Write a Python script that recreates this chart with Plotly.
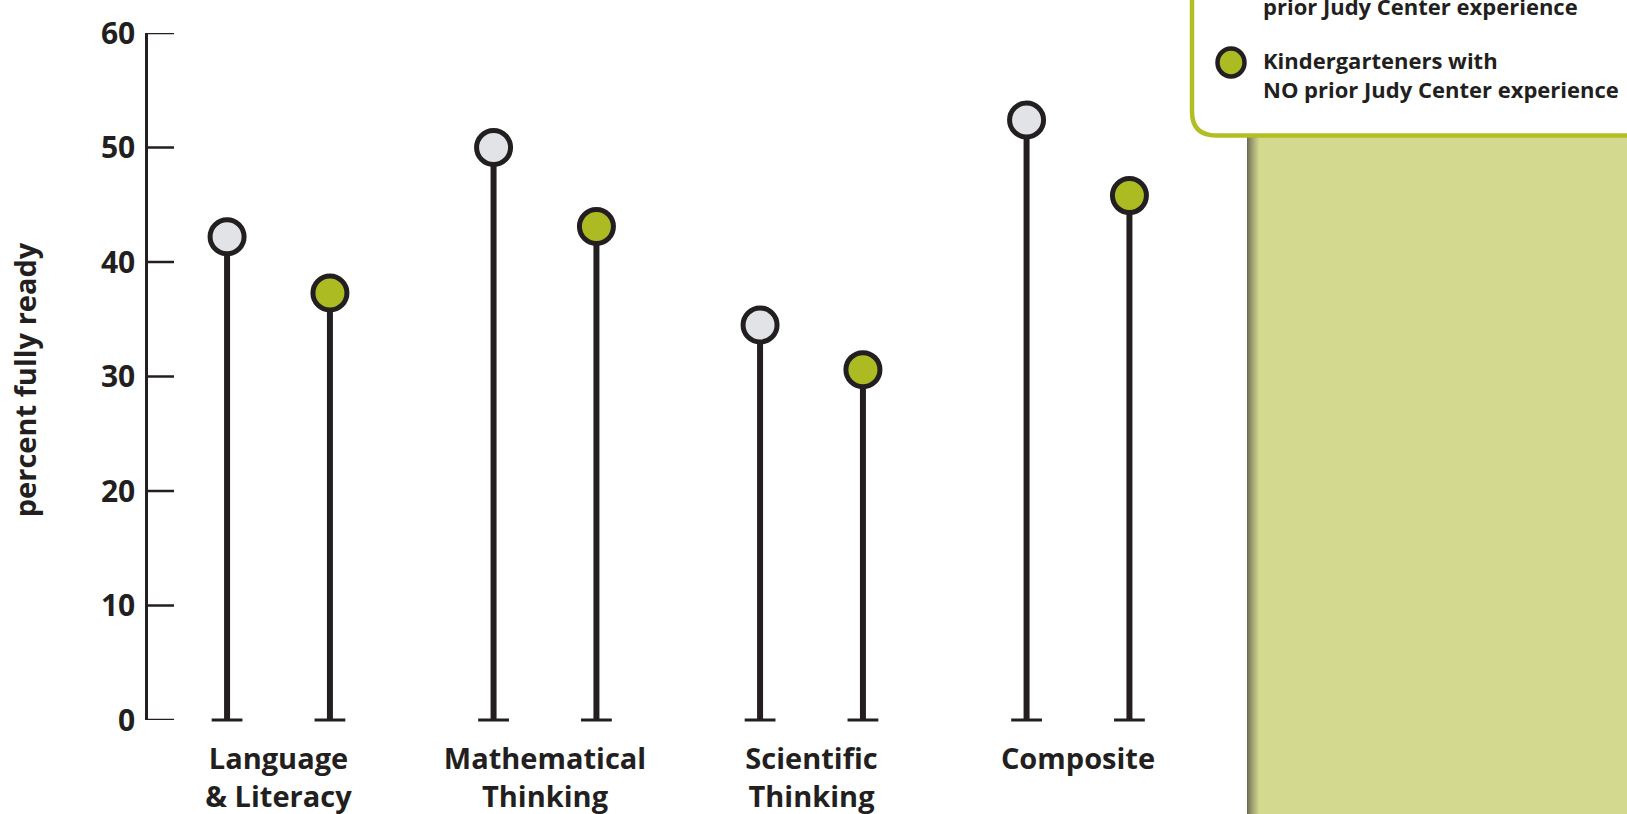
import plotly.graph_objects as go

# Readiness scores: percent of kindergarteners fully ready, by domain
categories = ["Language<br>& Literacy", "Mathematical<br>Thinking", "Scientific<br>Thinking", "Composite"]
with_jc = [42.2, 50.0, 34.5, 52.4]      # with prior Judy Center experience
no_jc = [37.3, 43.1, 30.6, 45.8]        # with NO prior Judy Center experience
y_ticks = [0, 10, 20, 30, 40, 50, 60]

INK = "#231f20"
GREY = "#e1e3e6"
GREEN = "#adbb22"
BORDER_GREEN = "#b2be22"
PANEL = "#d4d990"

W, H = 1627, 814
ML, MR, MT, MB = 148, 437, 32.5, 94
PW, PH = W - ML - MR, H - MT - MB

group = list(range(len(categories)))
offset = 0.193
x_with = [g - offset for g in group]
x_no = [g + offset for g in group]


def px_x(p):
    return (p - ML) / PW


def px_y(p):
    return (H - MB - p) / PH


def stems(xs, ys):
    sx, sy = [], []
    for x, y in zip(xs, ys):
        sx += [x, x, None]
        sy += [0, y, None]
    return sx, sy


fig = go.Figure()

for xs, ys in ((x_with, with_jc), (x_no, no_jc)):
    sx, sy = stems(xs, ys)
    fig.add_trace(go.Scatter(x=sx, y=sy, mode="lines",
                             line=dict(color=INK, width=6), hoverinfo="skip",
                             showlegend=False, cliponaxis=False))
    # flat foot at the base of each stem
    fig.add_trace(go.Scatter(x=xs, y=[0] * len(xs), mode="markers",
                             marker=dict(symbol="line-ew", size=22,
                                         line=dict(color=INK, width=3)),
                             hoverinfo="skip", showlegend=False, cliponaxis=False))

fig.add_trace(go.Scatter(x=x_with, y=with_jc, mode="markers",
                         name="Kindergarteners with prior Judy Center experience",
                         marker=dict(size=34, color=GREY, line=dict(color=INK, width=5)),
                         showlegend=False, cliponaxis=False))
fig.add_trace(go.Scatter(x=x_no, y=no_jc, mode="markers",
                         name="Kindergarteners with NO prior Judy Center experience",
                         marker=dict(size=34, color=GREEN, line=dict(color=INK, width=5)),
                         showlegend=False, cliponaxis=False))

shapes = []

# y-axis tick marks pointing into the plot
for v in y_ticks:
    shapes.append(dict(type="line", xref="paper", yref="y",
                       x0=0, x1=26 / PW, y0=v, y1=v,
                       line=dict(color=INK, width=2.5), layer="above"))

# side panel with a soft shadow on its left edge
shapes.append(dict(type="rect", xref="paper", yref="paper",
                   x0=px_x(1247), x1=px_x(1660), y0=px_y(840), y1=px_y(110),
                   fillcolor=PANEL, line=dict(width=0), layer="above"))
dark = (0x6c, 0x6c, 0x52)
light = (0xd4, 0xd9, 0x90)
steps = 13
for i in range(steps):
    t = (i / (steps - 1)) ** 0.8
    c = tuple(round(d + (l - d) * t) for d, l in zip(dark, light))
    shapes.append(dict(type="rect", xref="paper", yref="paper",
                       x0=px_x(1247 + i), x1=px_x(1248 + i), y0=px_y(840), y1=px_y(110),
                       fillcolor="rgb(%d,%d,%d)" % c, line=dict(width=0), layer="above"))

# legend box with a rounded lower-left corner
L, B, T, R, r = 1192, 135, -80, 1680, 24
path = ("M {a},{b} L {c},{d} Q {e},{f} {g},{h} L {i},{j} L {k},{m} Z"
        .format(a=px_x(L), b=px_y(T), c=px_x(L), d=px_y(B - r),
                e=px_x(L), f=px_y(B), g=px_x(L + r), h=px_y(B),
                i=px_x(R), j=px_y(B), k=px_x(R), m=px_y(T)))
shapes.append(dict(type="path", xref="paper", yref="paper", path=path,
                   fillcolor="white", line=dict(color=BORDER_GREEN, width=4.5),
                   layer="above"))

# legend swatches
for cy, fill in ((-24, GREY), (62, GREEN)):
    shapes.append(dict(type="circle", xref="paper", yref="paper",
                       x0=px_x(1231 - 13.5), x1=px_x(1231 + 13.5),
                       y0=px_y(cy + 14), y1=px_y(cy - 14),
                       fillcolor=fill, line=dict(color=INK, width=4.5), layer="above"))

legend_font = dict(family="Open Sans", size=22, color=INK, weight="bold")
annotations = [
    dict(xref="paper", yref="paper", x=px_x(1261), y=px_y(-9),
         text="Kindergarteners with<br>prior Judy Center experience",
         showarrow=False, xanchor="left", yanchor="middle", align="left",
         font=legend_font),
    dict(xref="paper", yref="paper", x=px_x(1261), y=px_y(74),
         text="Kindergarteners with<br>NO prior Judy Center experience",
         showarrow=False, xanchor="left", yanchor="middle", align="left",
         font=legend_font),
    dict(xref="paper", yref="paper", x=0, xshift=24 - ML, y=px_y(380),
         text="percent fully ready", textangle=-90, showarrow=False,
         xanchor="center", yanchor="middle",
         font=dict(family="Open Sans", size=29, color=INK, weight="bold")),
]

x0 = -(278.5 - ML) / 266.5
fig.update_layout(
    width=W, height=H,
    margin=dict(l=ML, r=MR, t=MT, b=MB, pad=0),
    paper_bgcolor="white", plot_bgcolor="white",
    showlegend=False,
    shapes=shapes, annotations=annotations,
    xaxis=dict(range=[x0, x0 + PW / 266.5], tickmode="array", tickvals=group,
               ticktext=categories, showgrid=False, zeroline=False, showline=False,
               ticks="", ticklabelstandoff=19, automargin=False,
               tickfont=dict(family="Open Sans", size=29, color=INK, weight="bold")),
    yaxis=dict(range=[0, 60], tickmode="array", tickvals=y_ticks,
               showgrid=False, zeroline=False, showline=True, linecolor=INK,
               linewidth=2.5, ticks="", ticklabelstandoff=4, automargin=False,
               tickfont=dict(family="Open Sans", size=30, color=INK, weight="bold")),
)

fig.write_html("out.html")
